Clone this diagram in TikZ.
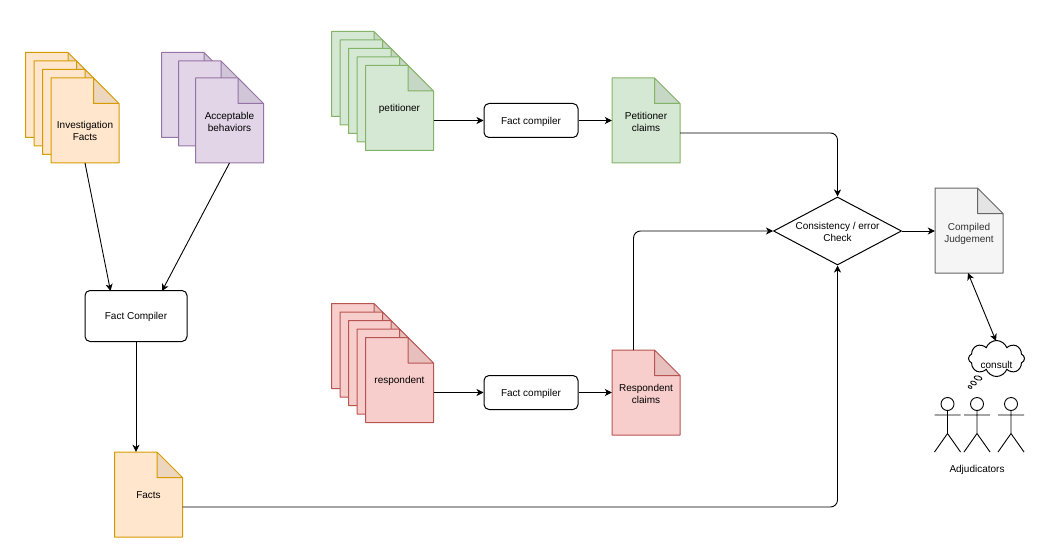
\documentclass[tikz,border=0pt]{standalone}
\usepackage{fontspec}
\setmainfont{Liberation Sans}
\usetikzlibrary{arrows.meta,calc,shapes.geometric,shapes.symbols}
\definecolor{ofill}{HTML}{FFE6CC}\definecolor{oline}{HTML}{D79B00}
\definecolor{pfill}{HTML}{E1D5E7}\definecolor{pline}{HTML}{9673A6}
\definecolor{gfill}{HTML}{D5E8D4}\definecolor{gline}{HTML}{82B366}
\definecolor{rfill}{HTML}{F8CECC}\definecolor{rline}{HTML}{B85450}
\definecolor{kfill}{HTML}{F5F5F5}\definecolor{kline}{HTML}{666666}
\tikzset{
  docbox/.style={minimum width=68pt,minimum height=85pt,inner sep=0pt},
  txt/.style={align=center,inner sep=0pt,font=\fontsize{10}{12}\selectfont},
  procbox/.style={draw=black,fill=white,rounded corners=5pt,line width=1pt,inner sep=0pt},
  conn/.style={draw=black,line width=0.9pt,rounded corners=7pt,-{Stealth[length=7pt,width=7pt,inset=2pt]}},
  biconn/.style={draw=black,line width=0.9pt,{Stealth[length=7pt,width=7pt,inset=2pt]}-{Stealth[length=7pt,width=7pt,inset=2pt]}},
  stick/.style={draw=black,line width=0.9pt},
  bubble/.style={ellipse,draw=black,fill=white,line width=0.8pt,inner sep=0pt},
}
% #1 name, #2 x, #3 y (top left), #4 fill, #5 line
\newcommand{\docnode}[5]{%
  \fill[#4] (#2,#3) -- ++(42.5,0) -- ++(25.5,25.5) -- ++(0,59.5) -- ++(-68,0) -- cycle;
  \fill[#4!93!black] (#2+42.5,#3) -- ++(25.5,25.5) -- ++(-25.5,0) -- cycle;
  \draw[#5,line width=1pt,line join=round] (#2,#3) -- ++(42.5,0) -- ++(25.5,25.5) -- ++(0,59.5) -- ++(-68,0) -- cycle
     (#2+42.5,#3) -- ++(0,25.5) -- ++(25.5,0);
  \node[docbox] (#1) at (#2+34,#3+42.5) {};
}
\newcommand{\stickman}[2]{%
  \node[circle,stick,minimum size=13pt,inner sep=0pt] (#1) at (#2,404) {};
  \coordinate (#1n) at (#2,410.5);
  \coordinate (#1h) at (#2,433.5);
  \coordinate (#1al) at (#2-13,415);
  \coordinate (#1ar) at (#2+13,415);
  \coordinate (#1ll) at (#2-13,452);
  \coordinate (#1lr) at (#2+13,452);
  \draw[stick] (#1n) -- (#1h) (#1al) -- (#1ar) (#1ll) -- (#1h) -- (#1lr);
}
\begin{document}
\begin{tikzpicture}[x=1pt,y=-1pt]
\useasboundingbox (0,0) rectangle (1040,548);
% investigation
\docnode{i1}{25.5}{52.5}{ofill}{oline}
\docnode{i2}{34}{61}{ofill}{oline}
\docnode{i3}{42.5}{69.5}{ofill}{oline}
\docnode{i4}{51}{78}{ofill}{oline}
\node[txt] (i4t) at ([yshift=-10pt]i4.center) {Investigation\\Facts};
% acceptable
\docnode{a1}{161.5}{52.5}{pfill}{pline}
\docnode{a2}{178.5}{61}{pfill}{pline}
\docnode{a3}{195.5}{78}{pfill}{pline}
\node[txt] (a3t) at ([yshift=-1pt]a3.center) {Acceptable\\behaviors};
% petitioner
\docnode{p1}{331.5}{31.5}{gfill}{gline}
\docnode{p2}{340}{40}{gfill}{gline}
\docnode{p3}{348.5}{48.5}{gfill}{gline}
\docnode{p4}{357}{57}{gfill}{gline}
\docnode{p5}{365.5}{65.5}{gfill}{gline}
\node[txt] (p5t) at ([yshift=-1pt]p5.center) {petitioner};
% respondent
\docnode{r1}{331.5}{303.5}{rfill}{rline}
\docnode{r2}{340}{312}{rfill}{rline}
\docnode{r3}{348.5}{320.5}{rfill}{rline}
\docnode{r4}{357}{329}{rfill}{rline}
\docnode{r5}{365.5}{337.5}{rfill}{rline}
\node[txt] (r5t) at ([yshift=-1pt]r5.center) {respondent};
% claims etc.
\docnode{pc}{612}{78}{gfill}{gline}
\node[txt] (pct) at ([yshift=-1pt]pc.center) {Petitioner\\claims};
\docnode{rc}{612}{350}{rfill}{rline}
\node[txt] (rct) at ([yshift=-1pt]rc.center) {Respondent\\claims};
\docnode{facts}{114.5}{452}{ofill}{oline}
\node[txt] (factst) at ([yshift=-1pt]facts.center) {Facts};
\docnode{cj}{935}{188}{kfill}{kline}
\node[txt,text=black!80] (cjt) at ([yshift=-3pt]cj.center) {Compiled\\Judgement};
% process nodes
\node[procbox,minimum width=102pt,minimum height=51pt] (fc) at (136,316) {};
\node[txt] (fct) at ([yshift=-1pt]fc.center) {Fact Compiler};
\node[procbox,minimum width=94pt,minimum height=34pt] (fc1) at (531,120.5) {};
\node[txt] (fc1t) at ([yshift=-1pt]fc1.center) {Fact compiler};
\node[procbox,minimum width=94pt,minimum height=34pt] (fc2) at (531,392.5) {};
\node[txt] (fc2t) at ([yshift=-1pt]fc2.center) {Fact compiler};
\node[diamond,draw=black,fill=white,line width=1pt,minimum width=128pt,minimum height=68pt,inner sep=0pt,aspect=1.88] (chk) at (837.5,231) {};
\node[txt] (chkt) at ([yshift=-1pt]chk.center) {Consistency / error\\Check};
% cloud
\node[cloud,draw=black,fill=white,line width=1pt,cloud puffs=8,cloud puff arc=140,shape border rotate=22.5,aspect=1.6,minimum width=56pt,minimum height=36pt,inner sep=0pt] (cl) at (996.5,358.5) {};
\node[txt] (clt) at (996.5,365) {consult};
\node[bubble,minimum width=8pt,minimum height=4pt,rotate=-15] (b1) at (978,378) {};
\node[bubble,minimum width=6pt,minimum height=3.5pt,rotate=-20] (b2) at (973.5,383) {};
\node[bubble,minimum width=4pt,minimum height=2.5pt,rotate=-25] (b3) at (970,387) {};
% actors
\stickman{m1}{947.5}
\stickman{m2}{977}
\stickman{m3}{1011}
\node[txt] (adj) at (977,470) {Adjudicators};
% connectors
\coordinate (iout) at (85,163);
\coordinate (aout) at (229.5,163);
\coordinate (fcin1) at (110.5,291);
\coordinate (fcin2) at (162,291);
\coordinate (rcout) at (633.5,350);
\coordinate (pcout) at (680,133);
\coordinate (fout) at (182.5,507);
\coordinate (cjbot) at (968,273);
\coordinate (cltop) at (996,341);
\draw[conn] (iout) -- (fcin1);
\draw[conn] (aout) -- (fcin2);
\draw[conn] (fc.south) -- (facts.north -| fc.south);
\draw[conn] (p5.east |- fc1.west) -- (fc1.west);
\draw[conn] (fc1.east) -- (pc.west);
\draw[conn] (r5.east |- fc2.west) -- (fc2.west);
\draw[conn] (fc2.east) -- (rc.west);
\draw[conn] (pcout) -| (chk.north);
\draw[conn] (rcout) |- (chk.west);
\draw[conn] (fout) -| (chk.south);
\draw[conn] (chk.east) -- (chk.east -| cj.west);
\draw[biconn] (cjbot) -- (cltop);
\end{tikzpicture}
\end{document}
